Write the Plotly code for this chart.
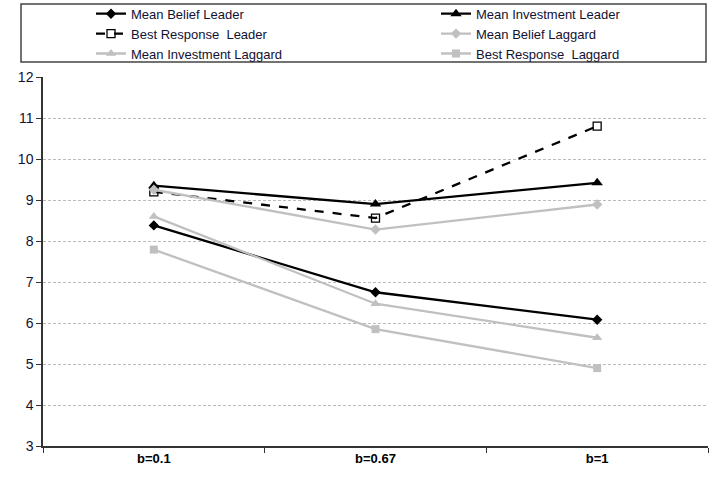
import plotly.graph_objects as go

categories = ["b=0.1", "b=0.67", "b=1"]
mean_belief_leader = [8.38, 6.75, 6.08]
mean_investment_leader = [9.35, 8.90, 9.42]
best_response_leader = [9.20, 8.56, 10.80]
mean_belief_laggard = [9.25, 8.28, 8.89]
mean_investment_laggard = [8.60, 6.47, 5.64]
best_response_laggard = [7.79, 5.85, 4.90]

BLACK = "#000000"
GRAY = "#C0C0C0"

# (name, values, colour, dash, symbol, size, legend column)
series = [
    ("Mean Belief Leader", mean_belief_leader, BLACK, "solid", "diamond", 8, "legend"),
    ("Mean Investment Leader", mean_investment_leader, BLACK, "solid", "triangle-up", 10, "legend2"),
    ("Best Response  Leader", best_response_leader, BLACK, "dash", "square-open", 8, "legend"),
    ("Mean Belief Laggard", mean_belief_laggard, GRAY, "solid", "diamond", 8, "legend2"),
    ("Mean Investment Laggard", mean_investment_laggard, GRAY, "solid", "triangle-up", 9, "legend"),
    ("Best Response  Laggard", best_response_laggard, GRAY, "solid", "square", 8, "legend2"),
]

fig = go.Figure()
for name, vals, col, dash, sym, size, leg in series:
    fig.add_trace(go.Scatter(
        x=categories, y=vals, name=name, mode="lines+markers", legend=leg,
        line=dict(color=col, width=2.3, dash=dash),
        marker=dict(symbol=sym, size=size, color=col,
                    line=dict(color=col, width=1.3 if "open" in sym else 0)),
    ))

legend_common = dict(
    orientation="v", yanchor="top", xanchor="left", y=1.212,
    font=dict(size=13, color="#111133"),
    bgcolor="rgba(0,0,0,0)", borderwidth=0, tracegroupgap=0,
)

fig.update_layout(
    width=712, height=482,
    margin=dict(l=43, r=4, t=77, b=36, autoexpand=False),
    paper_bgcolor="white", plot_bgcolor="white",
    font=dict(family="Liberation Sans, Arial, sans-serif", size=13, color="#111133"),
    showlegend=True,
    legend=dict(x=0.0722, **legend_common),
    legend2=dict(x=0.591, **legend_common),
    shapes=[dict(type="rect", xref="paper", yref="paper",
                 x0=(21 - 43) / 665, x1=(706 - 43) / 665,
                 y0=(446 - 62) / 369, y1=(446 - 4) / 369,
                 line=dict(color="#444444", width=1.5), layer="below")],
)

fig.update_xaxes(
    type="category", range=[-0.5, 2.5], tickson="boundaries",
    ticks="outside", ticklen=5, tickcolor="#333333",
    showline=True, linecolor="#333333", linewidth=1.5,
    showgrid=False,
    tickfont=dict(size=13, color="#000000", family="Liberation Sans, Arial, sans-serif", weight="bold"),
)
fig.update_yaxes(
    range=[3, 12], dtick=1, tick0=3,
    ticks="outside", ticklen=5, tickcolor="#333333",
    showline=True, linecolor="#333333", linewidth=1.5,
    showgrid=True, gridcolor="#BBBBBB", griddash="3px,2px", gridwidth=1,
    zeroline=False,
    tickfont=dict(size=14, color="#111133"),
)

fig.write_html("out.html", config={"displayModeBar": False},
               post_script="document.body.style.margin='0';")
